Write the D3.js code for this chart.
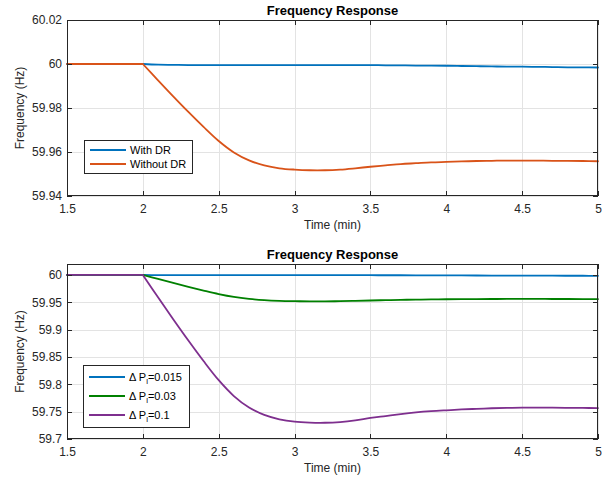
<!DOCTYPE html>
<html lang="en">
<head>
<meta charset="UTF-8">
<title>Frequency Response</title>
<script src="https://d3js.org/d3.v7.min.js"></script>
<style>
    body { margin: 0; background: #fff; }
    svg { font-family: "Liberation Sans", Arial, sans-serif; }
    .axis path { display: none; }
    .axis line { stroke: #262626; shape-rendering: crispEdges; }
    .axis text { font-size: 12px; fill: #262626; }
    .grid path { display: none; }
    .grid line { stroke: #e3e3e3; shape-rendering: crispEdges; }
    .grid text { display: none; }
</style>
</head>
<body>
<svg width="607" height="481"></svg>
<script>
    // time axis (min)
    const time = [1.5, 2.0, 2.1, 2.2, 2.3, 2.4, 2.5, 2.6, 2.7, 2.8, 2.9, 3.0, 3.1, 3.2, 3.3, 3.4,
        3.5, 3.6, 3.7, 3.8, 3.9, 4.0, 4.1, 4.2, 4.3, 4.4, 4.5, 4.6, 4.7, 4.8, 4.9, 5.0];

    // top plot
    const withDR = [60, 60, 59.9997, 59.9996, 59.9995, 59.9995, 59.9995, 59.9995, 59.9995, 59.9995,
        59.9995, 59.9995, 59.9995, 59.9995, 59.9995, 59.9995, 59.9995, 59.9994, 59.9994, 59.9993,
        59.9993, 59.9992, 59.9991, 59.9990, 59.9989, 59.9988, 59.9988, 59.9987, 59.9986, 59.9985,
        59.9985, 59.9984];
    const withoutDR = [60, 60, 59.9926, 59.9853, 59.9782, 59.9714, 59.9650, 59.9598, 59.9562, 59.9539,
        59.9526, 59.9520, 59.9517, 59.9517, 59.9520, 59.9526, 59.9533, 59.9539, 59.9545, 59.9549,
        59.9553, 59.9555, 59.9557, 59.9559, 59.9560, 59.9561, 59.9561, 59.9561, 59.9560, 59.9560,
        59.9559, 59.9558];

    // bottom plot
    const dP015 = [60, 60, 59.9997, 59.9996, 59.9995, 59.9995, 59.9995, 59.9995, 59.9995, 59.9995,
        59.9995, 59.9995, 59.9995, 59.9995, 59.9995, 59.9995, 59.9995, 59.9994, 59.9994, 59.9993,
        59.9993, 59.9992, 59.9991, 59.9990, 59.9989, 59.9988, 59.9988, 59.9987, 59.9986, 59.9985,
        59.9985, 59.9984];
    const dP03 = [60, 60, 59.9926, 59.9853, 59.9782, 59.9714, 59.9650, 59.9598, 59.9562, 59.9539,
        59.9526, 59.9520, 59.9517, 59.9517, 59.9520, 59.9526, 59.9533, 59.9539, 59.9545, 59.9549,
        59.9553, 59.9555, 59.9557, 59.9559, 59.9560, 59.9561, 59.9561, 59.9561, 59.9560, 59.9560,
        59.9559, 59.9558];
    const dP1 = [60, 60, 59.959, 59.919, 59.880, 59.8425, 59.8075, 59.7785, 59.7575, 59.744,
        59.736, 59.7317, 59.730, 59.7297, 59.731, 59.734, 59.7385, 59.742, 59.7455, 59.7485,
        59.7508, 59.7525, 59.754, 59.7552, 59.7562, 59.7568, 59.7572, 59.7573, 59.7572, 59.757,
        59.7568, 59.7566];

    const xTicks = [1.5, 2, 2.5, 3, 3.5, 4, 4.5, 5];
    const xTickLabels = ["1.5", "2", "2.5", "3", "3.5", "4", "4.5", "5"];
    const yTicksTop = [59.94, 59.96, 59.98, 60, 60.02];
    const yTickLabelsTop = ["59.94", "59.96", "59.98", "60", "60.02"];
    const yTicksBot = [59.7, 59.75, 59.8, 59.85, 59.9, 59.95, 60];
    const yTickLabelsBot = ["59.7", "59.75", "59.8", "59.85", "59.9", "59.95", "60"];

    const colors = { blue: "#0072bd", orange: "#d95319", green: "#008000", purple: "#7e2f8e" };

    let svg = d3.select("svg");
    let left = 67, right = 598;

    function panel(cfg) {
        let x = d3.scaleLinear().domain([1.5, 5]).range([left, right]);
        let y = d3.scaleLinear().domain(cfg.yDomain).range([cfg.bottom, cfg.top]);
        let w = right - left, h = cfg.bottom - cfg.top;
        let g = svg.append("g");

        // grid
        g.append("g").attr("class", "grid")
            .attr("transform", `translate(0,${cfg.bottom})`)
            .call(d3.axisBottom(x).tickValues(xTicks).tickSize(-h));
        g.append("g").attr("class", "grid")
            .attr("transform", `translate(${left},0)`)
            .call(d3.axisLeft(y).tickValues(cfg.yTicks).tickSize(-w));

        // lines: flat part before the step, smooth curve after it
        let flat = d3.line().x(d => x(d[0])).y(d => y(d[1]));
        let curve = d3.line().x(d => x(d[0])).y(d => y(d[1])).curve(d3.curveCatmullRom.alpha(0.5));
        cfg.series.forEach(s => {
            let pts = time.map((t, i) => [t, s.values[i]]);
            let pre = pts.filter(p => p[0] <= 2);
            let post = pts.filter(p => p[0] >= 2);
            g.append("path")
                .attr("d", flat(pre) + curve(post))
                .attr("fill", "none")
                .attr("stroke", s.color)
                .attr("stroke-width", 1.8)
                .attr("stroke-linejoin", "round")
                .attr("stroke-linecap", "round");
        });

        // axes (ticks inside, box)
        g.append("g").attr("class", "axis")
            .attr("transform", `translate(0,${cfg.bottom})`)
            .call(d3.axisBottom(x).tickValues(xTicks).tickSize(-5).tickPadding(8)
                .tickFormat((d, i) => xTickLabels[i]));
        g.append("g").attr("class", "axis")
            .attr("transform", `translate(0,${cfg.top})`)
            .call(d3.axisTop(x).tickValues(xTicks).tickSize(-5).tickFormat(""));
        g.append("g").attr("class", "axis")
            .attr("transform", `translate(${left},0)`)
            .call(d3.axisLeft(y).tickValues(cfg.yTicks).tickSize(-5).tickPadding(5)
                .tickFormat((d, i) => cfg.yLabels[i]));
        g.append("g").attr("class", "axis")
            .attr("transform", `translate(${right},0)`)
            .call(d3.axisRight(y).tickValues(cfg.yTicks).tickSize(-5).tickFormat(""));
        g.append("rect")
            .attr("x", left + 0.5).attr("y", cfg.top + 0.5)
            .attr("width", w - 1).attr("height", h - 1)
            .attr("fill", "none").attr("stroke", "#262626").attr("stroke-width", 1);

        // texts
        g.append("text")
            .attr("x", (left + right) / 2).attr("y", cfg.top - 5)
            .attr("text-anchor", "middle").attr("font-size", "13px").attr("font-weight", "bold")
            .attr("fill", "#000").text("Frequency Response");
        g.append("text")
            .attr("x", (left + right) / 2).attr("y", cfg.bottom + 33)
            .attr("text-anchor", "middle").attr("font-size", "12px")
            .attr("fill", "#262626").text("Time (min)");
        g.append("text")
            .attr("transform", `translate(24,${(cfg.top + cfg.bottom) / 2}) rotate(-90)`)
            .attr("text-anchor", "middle").attr("font-size", "12px")
            .attr("fill", "#262626").text("Frequency (Hz)");

        // legend
        let lg = g.append("g");
        lg.append("rect")
            .attr("x", cfg.legend.x + 0.5).attr("y", cfg.legend.y + 0.5)
            .attr("width", cfg.legend.w).attr("height", cfg.legend.h)
            .attr("fill", "#fff").attr("stroke", "#262626").attr("stroke-width", 1);
        cfg.series.forEach((s, i) => {
            let yy = cfg.legend.y + cfg.legend.first + i * cfg.legend.step;
            lg.append("line")
                .attr("x1", cfg.legend.x + 6).attr("x2", cfg.legend.x + 42)
                .attr("y1", yy).attr("y2", yy)
                .attr("stroke", s.color).attr("stroke-width", 1.8);
            let t = lg.append("text")
                .attr("x", cfg.legend.x + 46).attr("y", yy + 4)
                .attr("font-size", "11px").attr("fill", "#000");
            if (s.sub) {
                t.append("tspan").text("\u0394 P");
                t.append("tspan").attr("dy", 3).attr("font-size", "8px").text("l");
                t.append("tspan").attr("dy", -3).text("=" + s.sub);
            } else {
                t.text(s.name);
            }
        });
    }

    panel({
        top: 20, bottom: 196, yDomain: [59.94, 60.02],
        yTicks: yTicksTop, yLabels: yTickLabelsTop,
        series: [
            { name: "With DR", values: withDR, color: colors.blue },
            { name: "Without DR", values: withoutDR, color: colors.orange }
        ],
        legend: { x: 84, y: 140, w: 108, h: 33, first: 10, step: 14 }
    });

    panel({
        top: 264, bottom: 439, yDomain: [59.7, 60.02],
        yTicks: yTicksBot, yLabels: yTickLabelsBot,
        series: [
            { sub: "0.015", values: dP015, color: colors.blue },
            { sub: "0.03", values: dP03, color: colors.green },
            { sub: "0.1", values: dP1, color: colors.purple }
        ],
        legend: { x: 83, y: 365, w: 106, h: 62, first: 12, step: 19 }
    });
</script>
</body>
</html>
